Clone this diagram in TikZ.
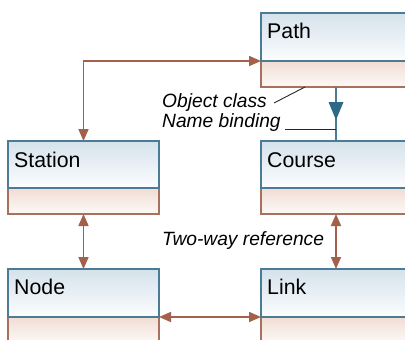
\documentclass[tikz,border=0pt]{standalone}
\usepackage{fontspec}
\setmainfont{Liberation Sans}
\usetikzlibrary{arrows.meta,calc}

\definecolor{clsline}{HTML}{4A7C98}
\definecolor{upTop}{HTML}{D5E2EB}
\definecolor{upBot}{HTML}{FCFDFE}
\definecolor{lowLine}{HTML}{A8705F}
\definecolor{lowTop}{HTML}{F1DDD4}
\definecolor{lowBot}{HTML}{FDF9F7}
\definecolor{refBrown}{HTML}{A5604C}
\definecolor{bindTeal}{HTML}{2E6A87}

\tikzset{
  upper/.style={draw=clsline, line width=1.3pt, top color=upTop, bottom color=upBot,
    anchor=north west, inner sep=0pt, outer sep=0pt, minimum height=48pt, minimum width=#1},
  lower/.style={draw=lowLine, line width=1.3pt, top color=lowTop, bottom color=lowBot,
    anchor=north west, inner sep=0pt, outer sep=0pt, minimum height=26pt, minimum width=#1},
  clsname/.style={anchor=base west, inner sep=0pt, font=\fontsize{21.3}{25}\selectfont},
  note/.style={anchor=base west, inner sep=0pt, font=\fontsize{19.2}{23}\selectfont\itshape},
  twoway/.style={draw=refBrown, line width=1.7pt,
    {Triangle[length=12pt,width=10pt]}-{Triangle[length=12pt,width=10pt]}},
  leader/.style={draw=black!85, line width=0.9pt},
}

\begin{document}
\begin{tikzpicture}[x=1pt,y=-1pt]
\useasboundingbox (0,0) rectangle (405,340);
\clip (0,0) rectangle (405,340);

% class boxes: lower compartment first, name compartment on top of it
\node[lower=150pt] (pathL) at (261,61) {};
\node[upper=150pt] (pathT) at (261,13) {};
\node[lower=151pt] (stationL) at (8,188) {};
\node[upper=151pt, minimum height=47pt] (stationT) at (8,141) {};
\node[lower=150pt] (courseL) at (261,188) {};
\node[upper=150pt, minimum height=47pt] (courseT) at (261,141) {};
\node[lower=151pt] (nodeL) at (8,317) {};
\node[upper=151pt] (nodeT) at (8,269) {};
\node[lower=150pt] (linkL) at (261,317) {};
\node[upper=150pt] (linkT) at (261,269) {};

% class names
\node[clsname] (pathN) at (267,38) {Path};
\node[clsname] (stationN) at (14,167) {Station};
\node[clsname] (courseN) at (267,167) {Course};
\node[clsname] (nodeN) at (14,294) {Node};
\node[clsname] (linkN) at (267,294) {Link};

% notes
\node[note] (oc) at (162,107) {Object class};
\node[note] (nb) at (162,127) {Name binding};
\node[note] (tw) at (162,245) {Two-way reference};

% name binding Path -> Course
\draw[draw=clsline, line width=1.3pt] (pathL.south) -- (courseT.north);
\fill[bindTeal] ($(pathL.south)+(-7.5,15)$) -- ($(pathL.south)+(7.5,15)$)
  -- ($(pathL.south)+(0,33)$) -- cycle;

% leaders
\draw[leader] ([xshift=7pt,yshift=4pt]oc.base east) -- ([xshift=44pt]pathL.south west);
\draw[leader] ([xshift=4pt,yshift=-2pt]nb.base east) -- ([yshift=-2pt]nb.base east -| pathL.south);

% two-way references
\draw[twoway] (pathT.south west) -| (stationT.north);
\draw[twoway] (stationL.south) -- (nodeT.north);
\draw[twoway] (courseL.south) -- (linkT.north);
\draw[twoway] (nodeT.south east) -- (linkT.south west);
\end{tikzpicture}
\end{document}
